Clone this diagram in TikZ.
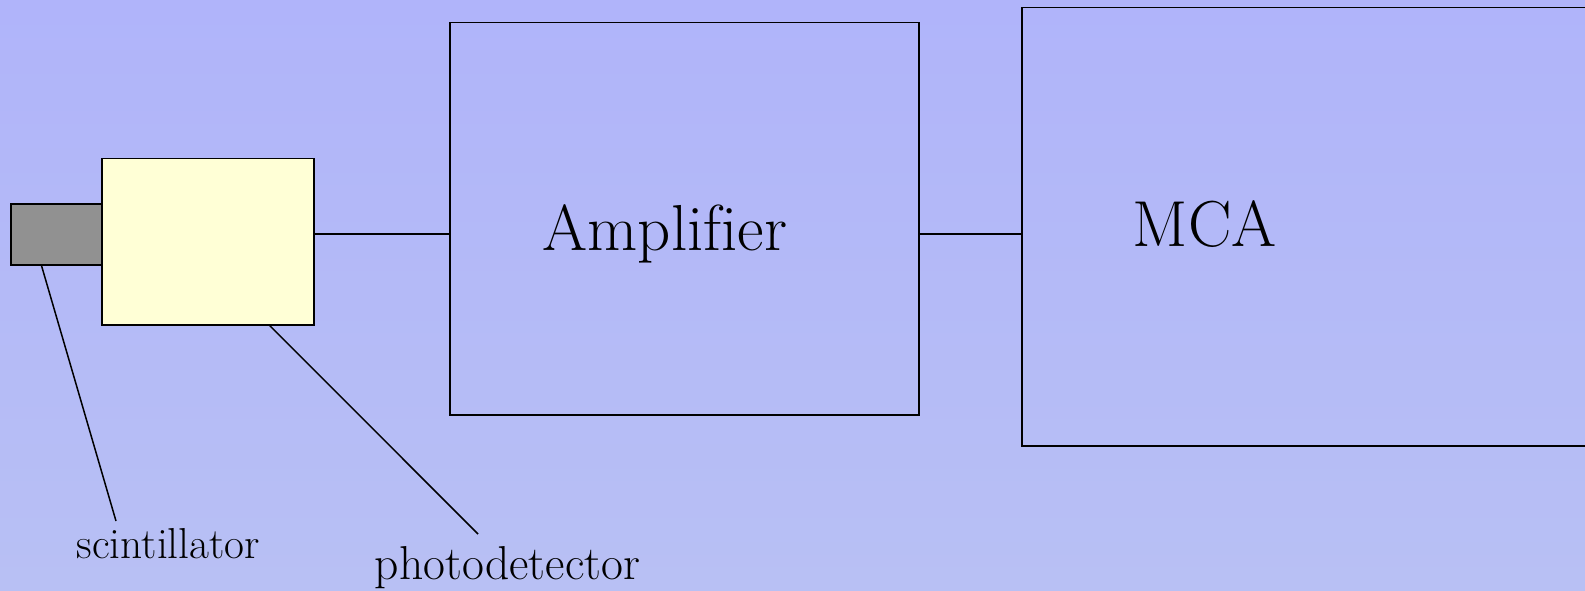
\documentclass[tikz,border=0pt]{standalone}
\usepackage{fontspec}
\setmainfont{Latin Modern Roman}[Ligatures=NoCommon]
\usetikzlibrary{calc, positioning}
\definecolor{bgtop}{RGB}{176,180,250}
\definecolor{bgbot}{RGB}{184,192,244}
\definecolor{scintgray}{RGB}{145,145,145}
\definecolor{pdyellow}{RGB}{255,255,214}

\begin{document}
\begin{tikzpicture}[x=1pt, y=-1pt, line width=1.5pt,
  box/.style={draw, rectangle, inner sep=0pt, anchor=north west},
  big/.style={inner sep=0pt, anchor=base west, font=\fontsize{65}{72}\selectfont},
  lbl/.style={inner sep=0pt, anchor=base west}]
\useasboundingbox (0,0) rectangle (1585,591);
\clip (0,0) rectangle (1585,591);
\shade[top color=bgtop, bottom color=bgbot] (0,0) rectangle (1585,591);
\node[box, fill=scintgray, minimum width=100pt, minimum height=61pt] (scint) at (10,203) {};
\node[box, fill=pdyellow, minimum width=212pt, minimum height=166pt] (photo) at (101,158) {};
\node[box, minimum width=469pt, minimum height=392pt] (amp) at (449,22) {};
\node[box, minimum width=640pt, minimum height=438pt] (mca) at (1021,7) {};
\node[big] (amptext) at (542,250) {Amplifier};
\node[big] (mcatext) at (1132,246) {MCA};
\node[lbl, font=\fontsize{43.3}{48}\selectfont] (scintlbl) at (76,558) {scintillator};
\node[lbl, font=\fontsize{47.6}{53}\selectfont] (photolbl) at (374,579) {photodetector};
\coordinate (sig) at (0,234);
\coordinate (scintend) at (116,521);
\coordinate (photoend) at (478,534);
\draw (sig -| photo.east) -- (sig -| amp.west);
\draw (sig -| amp.east) -- (sig -| mca.west);
\draw ($(scint.south west)!0.31!(scint.south east)$) -- (scintend);
\draw ($(photo.south west)!0.79!(photo.south east)$) -- (photoend);
\end{tikzpicture}
\end{document}
